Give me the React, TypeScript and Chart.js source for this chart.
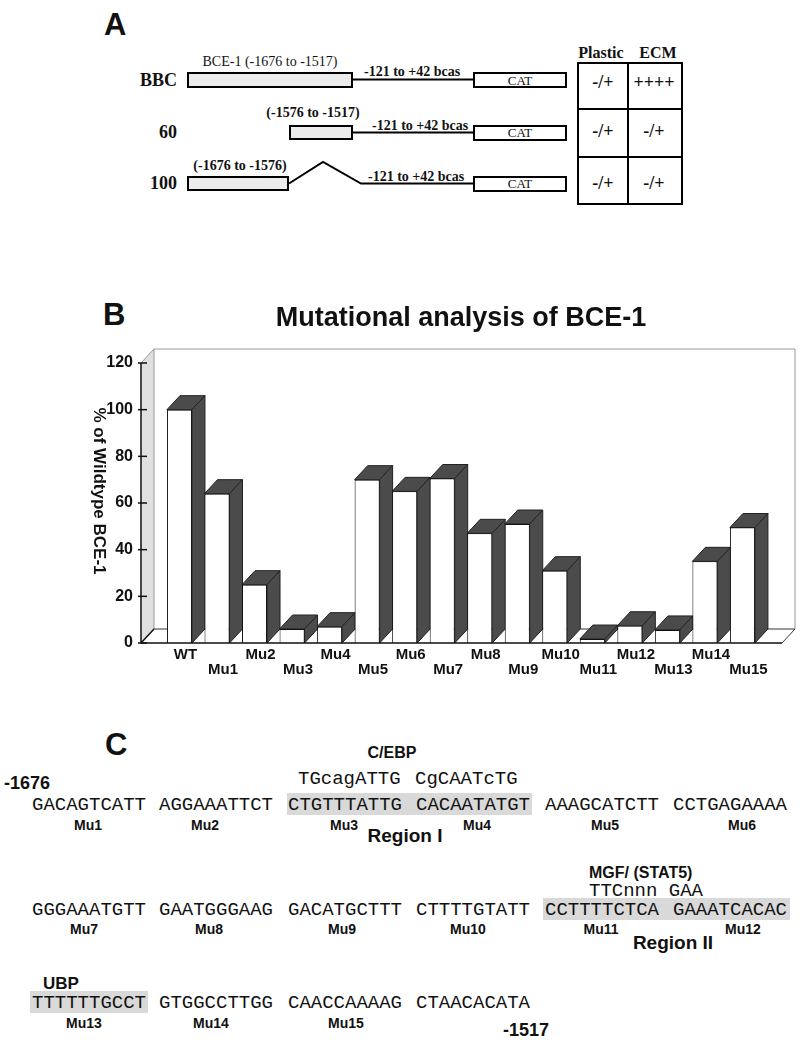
import React, { useEffect, useRef } from "react";
import { Chart, registerables } from "chart.js";

Chart.register(...registerables);

// ---------- Panel B data ----------
const categories = ["WT", "Mu1", "Mu2", "Mu3", "Mu4", "Mu5", "Mu6", "Mu7", "Mu8", "Mu9", "Mu10", "Mu11", "Mu12", "Mu13", "Mu14", "Mu15"];
const activity = [100, 64, 25, 6, 7, 70, 65, 70.5, 47, 51, 31, 1.7, 7.4, 5.6, 35, 49.5];
const yMin = 0;
const yMax = 120;
const yStep = 20;
const chartTitle = "Mutational analysis of BCE-1";
const yTitle = "% of Wildtype BCE-1";

// ---------- Panel A data ----------
const constructs = ["BBC", "60", "100"];
const plastic = ["-/+", "-/+", "-/+"];
const ecm = ["++++", "-/+", "-/+"];

// ---------- Panel C data ----------
const seqRow1 = ["GACAGTCATT", "AGGAAATTCT", "CTGTTTATTG", "CACAATATGT", "AAAGCATCTT", "CCTGAGAAAA"];
const seqRow2 = ["GGGAAATGTT", "GAATGGGAAG", "GACATGCTTT", "CTTTTGTATT", "CCTTTTCTCA", "GAAATCACAC"];
const seqRow3 = ["TTTTTTGCCT", "GTGGCCTTGG", "CAACCAAAAG", "CTAACACATA"];
const mutRow1 = ["Mu1", "Mu2", "Mu3", "Mu4", "Mu5", "Mu6"];
const mutRow2 = ["Mu7", "Mu8", "Mu9", "Mu10", "Mu11", "Mu12"];
const mutRow3 = ["Mu13", "Mu14", "Mu15"];

const SANS = "'Liberation Sans', Arial, Helvetica, sans-serif";
const SERIF = "'Liberation Serif', 'Times New Roman', serif";
const MONO = "'Liberation Mono', 'Courier New', monospace";
const KFAC: Record<string, number> = { sans: 0.488, serif: 0.507, mono: 0.44 };

type TxtProps = {
  x: number;
  y: number;
  size: number;
  kind?: "sans" | "serif" | "mono";
  weight?: string | number;
  anchor?: "left" | "center" | "right";
  children: React.ReactNode;
};

function Txt({ x, y, size, kind = "sans", weight = "bold", anchor = "left", children }: TxtProps) {
  const family = kind === "sans" ? SANS : kind === "serif" ? SERIF : MONO;
  const style: React.CSSProperties = {
    position: "absolute",
    top: y - KFAC[kind] * size,
    fontFamily: family,
    fontSize: size,
    lineHeight: `${size}px`,
    fontWeight: weight as any,
    whiteSpace: "pre",
    color: "#111",
  };
  if (anchor === "left") style.left = x;
  else if (anchor === "right") style.right = 800 - x;
  else {
    style.left = x;
    style.transform = "translateX(-50%)";
  }
  return <div style={style}>{children}</div>;
}

// 3D geometry of panel B
const DX = 13;
const DY = -14;
const AX_GAP = 19.7;
const FLOOR_EXTRA = 20.8;

const threeD = {
  id: "threeD",
  beforeDatasetsDraw(chart: any) {
    const { ctx, chartArea: ca, scales } = chart;
    const y = scales.y;
    const ax = ca.left - AX_GAP;
    const y0 = y.getPixelForValue(yMin);
    const yT = y.getPixelForValue(yMax);
    const fr = ca.right + FLOOR_EXTRA;
    ctx.save();
    // left wall
    ctx.fillStyle = "#e0e0e0";
    ctx.beginPath();
    ctx.moveTo(ax, yT);
    ctx.lineTo(ax + DX, yT + DY);
    ctx.lineTo(ax + DX, y0 + DY);
    ctx.lineTo(ax, y0);
    ctx.closePath();
    ctx.fill();
    // back wall outline
    ctx.strokeStyle = "#9a9a9a";
    ctx.lineWidth = 1;
    ctx.beginPath();
    ctx.moveTo(ax + DX, y0 + DY);
    ctx.lineTo(ax + DX, yT + DY);
    ctx.lineTo(fr + DX, yT + DY);
    ctx.lineTo(fr + DX, y0 + DY);
    ctx.stroke();
    ctx.beginPath();
    ctx.moveTo(ax, yT);
    ctx.lineTo(ax + DX, yT + DY);
    ctx.stroke();
    // floor back line
    ctx.strokeStyle = "#333";
    ctx.beginPath();
    ctx.moveTo(ax + DX, y0 + DY);
    ctx.lineTo(fr + DX, y0 + DY);
    ctx.moveTo(fr, y0);
    ctx.lineTo(fr + DX, y0 + DY);
    ctx.stroke();
    // dark top and side faces of bars
    const meta = chart.getDatasetMeta(0);
    ctx.fillStyle = "#4b4b4b";
    ctx.strokeStyle = "#222";
    meta.data.forEach((bar: any) => {
      const p = bar.getProps(["x", "y", "base", "width"], true);
      const L = p.x - p.width / 2;
      const R = p.x + p.width / 2;
      const top = p.y;
      const base = p.base;
      ctx.beginPath();
      ctx.moveTo(L, top);
      ctx.lineTo(L + DX, top + DY);
      ctx.lineTo(R + DX, top + DY);
      ctx.lineTo(R, top);
      ctx.closePath();
      ctx.fill();
      ctx.stroke();
      ctx.beginPath();
      ctx.moveTo(R, top);
      ctx.lineTo(R + DX, top + DY);
      ctx.lineTo(R + DX, base + DY);
      ctx.lineTo(R, base);
      ctx.closePath();
      ctx.fill();
      ctx.stroke();
    });
    ctx.restore();
  },
  afterDatasetsDraw(chart: any) {
    const { ctx, chartArea: ca, scales } = chart;
    const y = scales.y;
    const ax = ca.left - AX_GAP;
    const y0 = y.getPixelForValue(yMin);
    const yT = y.getPixelForValue(yMax);
    const fr = ca.right + FLOOR_EXTRA;
    ctx.save();
    ctx.strokeStyle = "#111";
    ctx.lineWidth = 1.5;
    ctx.beginPath();
    ctx.moveTo(ax, yT);
    ctx.lineTo(ax, y0);
    ctx.lineTo(fr, y0);
    ctx.moveTo(ax, y0);
    ctx.lineTo(ax + DX, y0 + DY);
    ctx.stroke();
    // tick marks
    ctx.lineWidth = 1.5;
    for (let v = yMin; v <= yMax; v += yStep) {
      const py = y.getPixelForValue(v);
      ctx.beginPath();
      ctx.moveTo(ax - 3, py);
      ctx.lineTo(ax + 6, py);
      ctx.stroke();
    }
    // rotated y title (reads top to bottom)
    ctx.translate(ca.left - 62, (yT + y0) / 2 - 12);
    ctx.rotate(Math.PI / 2);
    ctx.fillStyle = "#111";
    ctx.font = `bold 17px ${SANS}`;
    ctx.textAlign = "center";
    ctx.textBaseline = "middle";
    ctx.fillText(yTitle, 0, 0);
    ctx.restore();
  },
};

function BarChart3D() {
  const ref = useRef<HTMLCanvasElement | null>(null);
  useEffect(() => {
    if (!ref.current) return;
    const chart = new Chart(ref.current, {
      type: "bar",
      data: {
        labels: categories,
        datasets: [
          {
            data: activity,
            backgroundColor: "#ffffff",
            borderColor: "#111",
            borderWidth: 1,
            barPercentage: 0.666,
            categoryPercentage: 1,
          },
        ],
      },
      options: {
        animation: false,
        responsive: false,
        maintainAspectRatio: false,
        layout: { padding: { left: 0, right: 38.8, top: 0, bottom: 0 } },
        plugins: {
          legend: { display: false },
          tooltip: { enabled: false },
          title: {
            display: true,
            text: chartTitle,
            fullSize: false,
            color: "#111",
            font: { family: SANS, size: 27, weight: "bold", lineHeight: 1.2 },
            padding: { top: 12.4, bottom: 28.2 },
          },
        },
        scales: {
          x: {
            type: "category",
            offset: true,
            grid: { display: false, drawTicks: false },
            border: { display: false },
            ticks: {
              autoSkip: false,
              maxRotation: 0,
              minRotation: 0,
              padding: 4.5,
              labelOffset: 6,
              color: "#111",
              font: { family: SANS, size: 15, weight: "bold", lineHeight: 1 },
              callback: (_v: any, i: number) => (i % 2 === 0 ? [categories[i], ""] : ["", categories[i]]),
            },
            afterFit: (s: any) => {
              s.height = 47;
            },
          },
          y: {
            min: yMin,
            max: yMax,
            grid: { display: false, drawTicks: false },
            border: { display: false },
            ticks: {
              stepSize: yStep,
              padding: 27.7,
              color: "#111",
              font: { family: SANS, size: 16, weight: "bold" },
            },
            afterFit: (s: any) => {
              s.width = 160.7;
            },
          },
        },
      },
      plugins: [threeD],
    } as any);
    return () => chart.destroy();
  }, []);
  return (
    <canvas
      ref={ref}
      width={800}
      height={400}
      style={{ position: "absolute", left: 0, top: 290, width: 800, height: 400 }}
    />
  );
}

function PanelA() {
  const rowsY = [80, 132, 183];
  return (
    <>
      <svg width={800} height={220} style={{ position: "absolute", left: 0, top: 0 }}>
        {/* BBC row */}
        <rect x={188} y={73} width={164} height={14} fill="#ececec" stroke="#000" strokeWidth={2} />
        <line x1={353} y1={79.5} x2={473} y2={79.5} stroke="#000" strokeWidth={2} />
        <rect x={474} y={73} width={92} height={14} fill="#fff" stroke="#000" strokeWidth={2} />
        {/* 60 row */}
        <rect x={290} y={126} width={62} height={13} fill="#ececec" stroke="#000" strokeWidth={2} />
        <line x1={353} y1={132.5} x2={473} y2={132.5} stroke="#000" strokeWidth={2} />
        <rect x={474} y={126} width={92} height={14} fill="#fff" stroke="#000" strokeWidth={2} />
        {/* 100 row */}
        <rect x={188} y={177} width={100} height={13} fill="#ececec" stroke="#000" strokeWidth={2} />
        <polyline points="289,183.5 323,162 361,183.5 473,183.5" fill="none" stroke="#000" strokeWidth={2} />
        <rect x={474} y={177} width={92} height={14} fill="#fff" stroke="#000" strokeWidth={2} />
        {/* table */}
        <rect x={578} y={63} width={104} height={141} fill="none" stroke="#000" strokeWidth={2} />
        <line x1={628} y1={63} x2={628} y2={204} stroke="#000" strokeWidth={2} />
        <line x1={578} y1={109} x2={682} y2={109} stroke="#000" strokeWidth={2} />
        <line x1={578} y1={157} x2={682} y2={157} stroke="#000" strokeWidth={2} />
      </svg>
      <Txt x={104} y={24} size={31}>A</Txt>
      <Txt x={601} y={53} size={16} kind="serif" anchor="center">Plastic</Txt>
      <Txt x={658} y={53} size={16} kind="serif" anchor="center">ECM</Txt>
      {constructs.map((c, i) => (
        <Txt key={c} x={177} y={rowsY[i]} size={18} kind="serif" anchor="right">{c}</Txt>
      ))}
      {plastic.map((p, i) => (
        <Txt key={"p" + i} x={603} y={[82, 131, 183][i]} size={18} kind="serif" anchor="center">{p}</Txt>
      ))}
      {ecm.map((p, i) => (
        <Txt key={"e" + i} x={654} y={[82, 131, 183][i]} size={18} kind="serif" anchor="center">{p}</Txt>
      ))}
      <Txt x={270} y={62} size={14} kind="serif" weight="normal" anchor="center">BCE-1 (-1676 to -1517)</Txt>
      <Txt x={313} y={113} size={14} kind="serif" anchor="center">(-1576 to -1517)</Txt>
      <Txt x={240} y={166} size={14} kind="serif" anchor="center">(-1676 to -1576)</Txt>
      <Txt x={364} y={72} size={14} kind="serif">-121 to +42 bcas</Txt>
      <Txt x={372} y={126} size={14} kind="serif">-121 to +42 bcas</Txt>
      <Txt x={368} y={177} size={14} kind="serif">-121 to +42 bcas</Txt>
      {[81, 133, 184].map((yy, i) => (
        <Txt key={"cat" + i} x={520} y={yy} size={13} kind="serif" weight="normal" anchor="center">CAT</Txt>
      ))}
    </>
  );
}

function SeqRow({ groups, y }: { groups: string[]; y: number }) {
  const lefts = [32, 159, 288, 416, 545, 673];
  return (
    <>
      {groups.map((g, i) => (
        <Txt key={g + i} x={lefts[i]} y={y} size={19} kind="mono" weight="normal">{g}</Txt>
      ))}
    </>
  );
}

function MutRow({ labels, centers, y }: { labels: string[]; centers: number[]; y: number }) {
  return (
    <>
      {labels.map((m, i) => (
        <Txt key={m} x={centers[i]} y={y} size={14} anchor="center">{m}</Txt>
      ))}
    </>
  );
}

function PanelC() {
  return (
    <>
      <div style={{ position: "absolute", left: 287, top: 793, width: 245, height: 22, background: "#d9d9d9" }} />
      <div style={{ position: "absolute", left: 543, top: 898, width: 247, height: 22, background: "#d9d9d9" }} />
      <div style={{ position: "absolute", left: 30, top: 991, width: 118, height: 22, background: "#d9d9d9" }} />
      <Txt x={105} y={744} size={31}>C</Txt>
      <Txt x={392} y={753} size={16} anchor="center">C/EBP</Txt>
      <Txt x={4} y={783} size={18}>-1676</Txt>
      <Txt x={298} y={778} size={19} kind="mono" weight="normal">TGcagATTG</Txt>
      <Txt x={415} y={778} size={19} kind="mono" weight="normal">CgCAATcTG</Txt>
      <SeqRow groups={seqRow1} y={804} />
      <MutRow labels={mutRow1} centers={[88, 205, 344, 477, 605, 742]} y={825} />
      <Txt x={405} y={835} size={19} anchor="center">Region I</Txt>

      <Txt x={589} y={873} size={16}>MGF/ (STAT5)</Txt>
      <Txt x={589} y={890} size={19} kind="mono" weight="normal">TTCnnn GAA</Txt>
      <SeqRow groups={seqRow2} y={909} />
      <MutRow labels={mutRow2} centers={[84, 209, 342, 468, 601, 743]} y={929} />
      <Txt x={673} y={942} size={19} anchor="center">Region II</Txt>

      <Txt x={43} y={983} size={17}>UBP</Txt>
      <SeqRow groups={seqRow3} y={1002} />
      <MutRow labels={mutRow3} centers={[84, 211, 346]} y={1023} />
      <Txt x={503} y={1030} size={18}>-1517</Txt>
    </>
  );
}

export default function App() {
  return (
    <div
      style={{
        position: "absolute",
        left: 0,
        top: 0,
        width: 800,
        height: 1045,
        background: "#ffffff",
        overflow: "hidden",
      }}
    >
      <PanelA />
      <Txt x={103} y={314} size={31}>B</Txt>
      <BarChart3D />
      <PanelC />
    </div>
  );
}
